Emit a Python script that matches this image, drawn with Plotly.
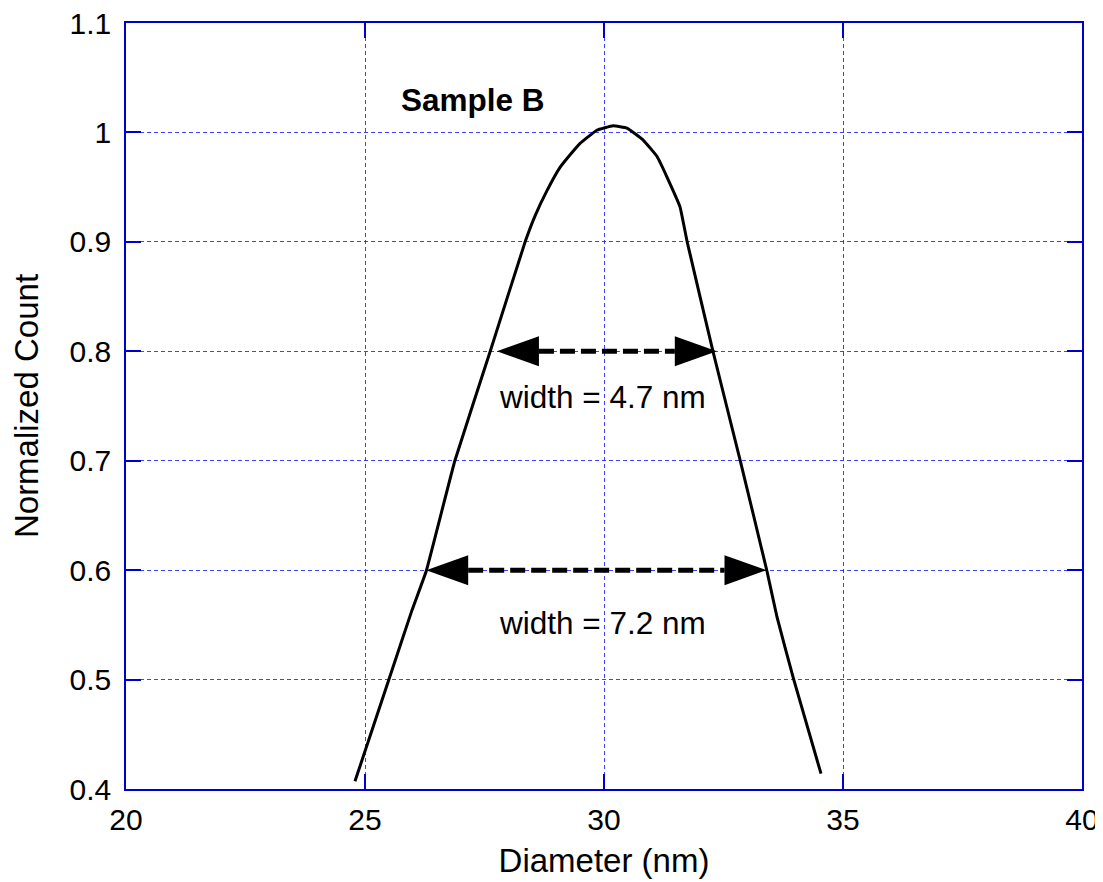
import plotly.graph_objects as go

# ---- data ----
diameter = [24.79, 25.50, 25.98, 26.28, 26.88, 27.62, 28.35, 28.56, 28.81, 29.08,
            29.30, 29.50, 29.85, 30.19, 30.48, 30.82, 31.11, 31.32, 31.59, 31.74,
            32.28, 32.85, 33.41, 33.62, 33.97, 34.54]
norm_count = [0.407, 0.500, 0.563, 0.599, 0.700, 0.800, 0.900, 0.924, 0.947, 0.968,
              0.980, 0.990, 1.002, 1.006, 1.004, 0.993, 0.978, 0.959, 0.932, 0.900,
              0.800, 0.700, 0.599, 0.557, 0.500, 0.414]

arrow_levels = [0.8, 0.6]
arrow_left = [27.76, 26.28]
arrow_right = [32.36, 33.40]
width_labels = ["width = 4.7 nm", "width = 7.2 nm"]
width_label_y = [0.758, 0.552]
width_label_x = [29.97, 29.97]

sample_label = "Sample B"
sample_x, sample_y = 27.25, 1.03

x_ticks = [20, 25, 30, 35, 40]
y_ticks = [0.4, 0.5, 0.6, 0.7, 0.8, 0.9, 1.0, 1.1]
y_ticktext = ["0.4", "0.5", "0.6", "0.7", "0.8", "0.9", "1", "1.1"]

# ---- layout constants (page body adds an 8px offset) ----
W, H = 1095, 874
ML, MR, MT, MB = 118, 21, 15, 93
XR = [20, 40]
YR = [0.4, 1.1]
FONT = "Liberation Sans, Arial, sans-serif"
FS_TICK = 30
FS_TEXT = 31.5
FS_TITLE = 33
FRAME = "#0000cc"
GRID = "rgba(30,30,255,0.85)"

px_x = (W - ML - MR) / (XR[1] - XR[0])
px_y = (H - MT - MB) / (YR[1] - YR[0])
head_len = 42 / px_x
head_half = 15 / px_y

fig = go.Figure()
fig.add_trace(go.Scatter(x=diameter, y=norm_count, mode="lines",
                         line=dict(color="black", width=3, shape="spline", smoothing=0.3),
                         showlegend=False, hoverinfo="skip"))

shapes = []
for yv, xl, xr in zip(arrow_levels, arrow_left, arrow_right):
    fig.add_trace(go.Scatter(x=[xl + head_len, xr - head_len], y=[yv, yv], mode="lines",
                             line=dict(color="black", width=5, dash="15px,6px"),
                             showlegend=False, hoverinfo="skip"))
    shapes.append(dict(type="path", xref="x", yref="y",
                       path=f"M{xl},{yv} L{xl + head_len},{yv + head_half} L{xl + head_len},{yv - head_half} Z",
                       fillcolor="black", line=dict(width=0)))
    shapes.append(dict(type="path", xref="x", yref="y",
                       path=f"M{xr},{yv} L{xr - head_len},{yv + head_half} L{xr - head_len},{yv - head_half} Z",
                       fillcolor="black", line=dict(width=0)))

annotations = [dict(x=sample_x, y=sample_y, xref="x", yref="y", text=f"<b>{sample_label}</b>",
                    showarrow=False, font=dict(family=FONT, size=FS_TEXT, color="black"))]
for tx, ty, tt in zip(width_label_x, width_label_y, width_labels):
    annotations.append(dict(x=tx, y=ty, xref="x", yref="y", text=tt, showarrow=False,
                            font=dict(family=FONT, size=FS_TEXT, color="black")))

axis_common = dict(showline=True, linecolor=FRAME, linewidth=1.5, mirror="allticks",
                   ticks="inside", ticklen=15, tickcolor=FRAME, tickwidth=1.5,
                   showgrid=True, gridcolor=GRID, gridwidth=1, griddash="4px,3px",
                   zeroline=False, automargin=False, ticklabeloverflow="allow",
                   tickfont=dict(family=FONT, size=FS_TICK, color="black"))

fig.update_layout(
    width=W, height=H,
    margin=dict(l=ML, r=MR, t=MT, b=MB),
    paper_bgcolor="white", plot_bgcolor="white",
    xaxis=dict(range=XR, tickvals=x_ticks, ticklabelstandoff=3,
               title=dict(text="Diameter (nm)", standoff=14,
                          font=dict(family=FONT, size=FS_TITLE, color="black")), **axis_common),
    yaxis=dict(range=YR, tickvals=y_ticks, ticktext=y_ticktext, ticklabelstandoff=7,
               title=dict(text="Normalized Count", standoff=24,
                          font=dict(family=FONT, size=FS_TITLE, color="black")), **axis_common),
    shapes=shapes, annotations=annotations,
)

fig.write_html("out.html")
